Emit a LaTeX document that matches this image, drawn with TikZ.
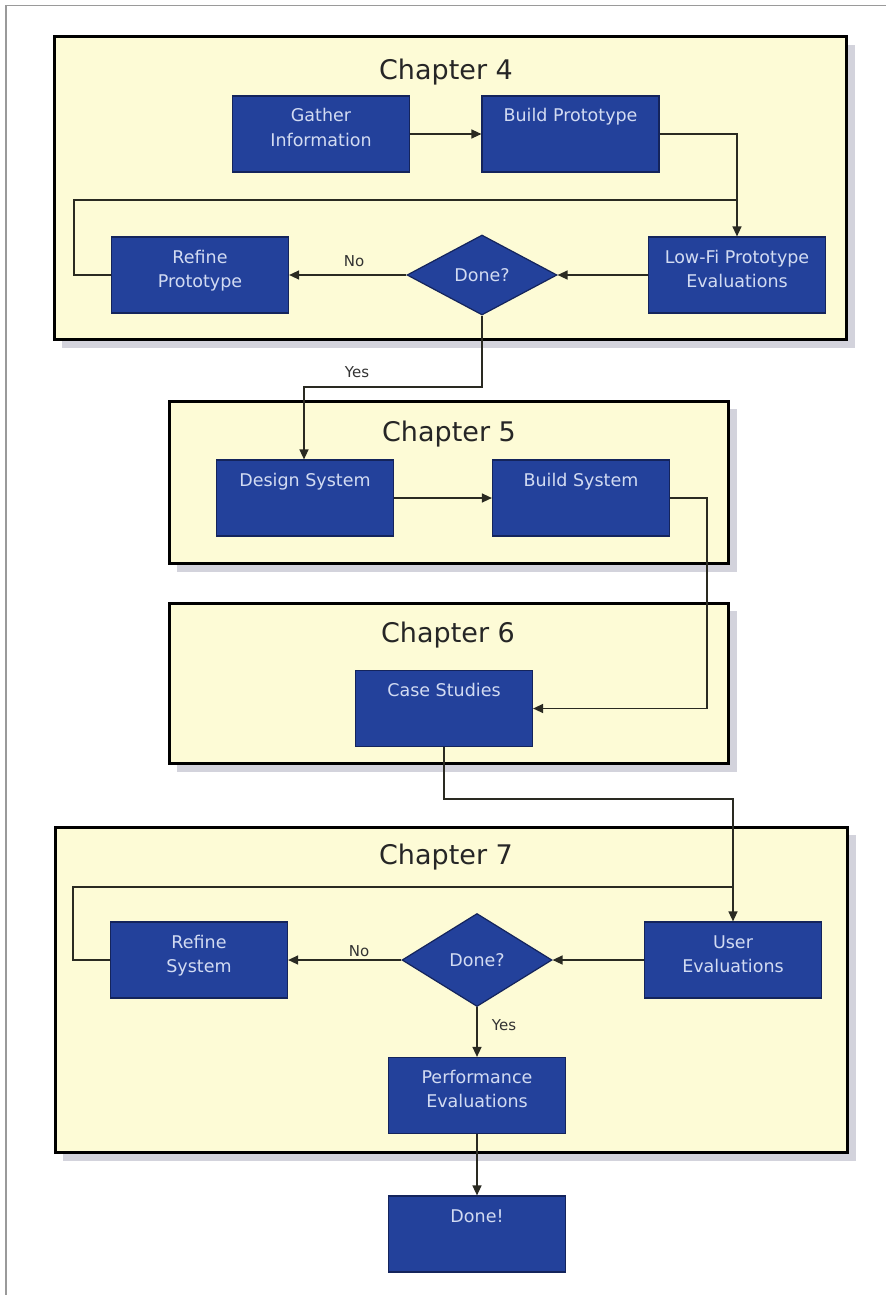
\documentclass[tikz,border=0pt]{standalone}
\usepackage{fontspec}
\setmainfont{DejaVu Sans}
\usetikzlibrary{arrows.meta,shapes.geometric}
\definecolor{boxblue}{HTML}{23419B}
\definecolor{boxedge}{HTML}{14245C}
\definecolor{boxtext}{HTML}{D2DBF2}
\definecolor{chapfill}{HTML}{FDFBD6}
\definecolor{shadowc}{HTML}{D3D3DC}
\definecolor{linec}{HTML}{2A2A22}
\definecolor{pagec}{HTML}{9A9A9A}
\newcommand\bt[1]{\parbox[c][76pt][t]{177pt}{\centering\fontsize{17.5}{24}\selectfont\rule{0pt}{26pt}#1}}
\tikzset{
  blk/.style={draw=boxedge, line width=1.2pt, fill=boxblue, text=boxtext, inner sep=0pt},
  dec/.style={diamond, draw=boxedge, line width=1.2pt, fill=boxblue, text=boxtext, inner sep=0pt,
    minimum width=150pt, font=\fontsize{17.5}{20}\selectfont},
  chap/.style={draw=black, line width=3pt, fill=chapfill},
  shad/.style={fill=shadowc},
  ttl/.style={text=black!85, font=\fontsize{27}{30}\selectfont, inner sep=0pt},
  lbl/.style={text=black!80, font=\fontsize{15}{18}\selectfont, inner sep=0pt},
  conn/.style={draw=linec, line width=1.4pt},
  arr/.style={conn, -{Triangle[length=10pt,width=9pt]}}
}
\begin{document}
\begin{tikzpicture}[x=1pt,y=-1pt]
\useasboundingbox (0,0) rectangle (886,1295);
% page edges
\draw[pagec, line width=1.2pt] (6,1295) -- (6,5.5) -- (886,5.5);
% shadows
\fill[shad] (62,45) rectangle (855,348);
\fill[shad] (177,409) rectangle (737,572);
\fill[shad] (177,611) rectangle (737,772);
\fill[shad] (63,835) rectangle (856,1161);
% chapter panels
\draw[chap] (54,37) rectangle (846,339);
\draw[chap] (169,401) rectangle (728,563);
\draw[chap] (169,603) rectangle (728,763);
\draw[chap] (55,827) rectangle (847,1152);
% titles
\node[ttl] (t4) at (446,72) {Chapter 4};
\node[ttl] (t5) at (449,434) {Chapter 5};
\node[ttl] (t6) at (448,635) {Chapter 6};
\node[ttl] (t7) at (446,857) {Chapter 7};
% chapter 4
\node[blk] (gather) at (321,134) {\bt{Gather\\Information}};
\node[blk] (buildp) at (570.5,134) {\bt{Build Prototype}};
\node[blk] (refinep) at (200,275) {\bt{Refine\\Prototype}};
\node[blk] (lowfi) at (737,275) {\bt{Low-Fi Prototype\\Evaluations}};
\node[dec, minimum height=80pt] (done1) at (482,275) {Done?};
% chapter 5
\node[blk] (design) at (305,498) {\bt{Design System}};
\node[blk] (buildsys) at (581,498) {\bt{Build System}};
% chapter 6
\node[blk] (case) at (444,708.5) {\bt{Case Studies}};
% chapter 7
\node[blk] (refines) at (199,960) {\bt{Refine\\System}};
\node[blk] (usereval) at (733,960) {\bt{User\\Evaluations}};
\node[dec, minimum height=93pt] (done2) at (477,960) {Done?};
\node[blk] (perf) at (477,1095.5) {\bt{Performance\\Evaluations}};
\node[blk] (donefin) at (477,1234) {\bt{Done!}};
% junction coordinates
\coordinate (j4) at (737,200);
\coordinate (j7) at (733,887);
% connectors chapter 4
\draw[arr] (gather) -- (buildp);
\draw[arr] (buildp.east) -| (lowfi.north);
\draw[arr] (lowfi) -- (done1);
\draw[arr] (done1) -- (refinep);
\draw[conn] (refinep.west) -- ++(-37,0) |- (j4);
\node[lbl] (no1) at (354,261) {No};
% chapter 4 -> 5
\draw[arr] (done1.south) -- (done1.south |- 0,387) -| ([xshift=-1pt]design.north);
\node[lbl] (yes1) at (357,372) {Yes};
\draw[arr] (design) -- (buildsys);
% chapter 5 -> 6
\draw[arr] (buildsys.east) -- ++(37,0) |- (case.east);
% chapter 6 -> 7
\draw[arr] (case.south) -- (case.south |- 0,799) -| (usereval.north);
% chapter 7
\draw[conn] (refines.west) -- ++(-37,0) |- (j7);
\draw[arr] (usereval) -- (done2);
\draw[arr] (done2) -- (refines);
\node[lbl] (no2) at (359,951) {No};
\draw[arr] (done2) -- (perf);
\node[lbl] (yes2) at (504,1025) {Yes};
\draw[arr] (perf) -- (donefin);
\end{tikzpicture}
\end{document}
